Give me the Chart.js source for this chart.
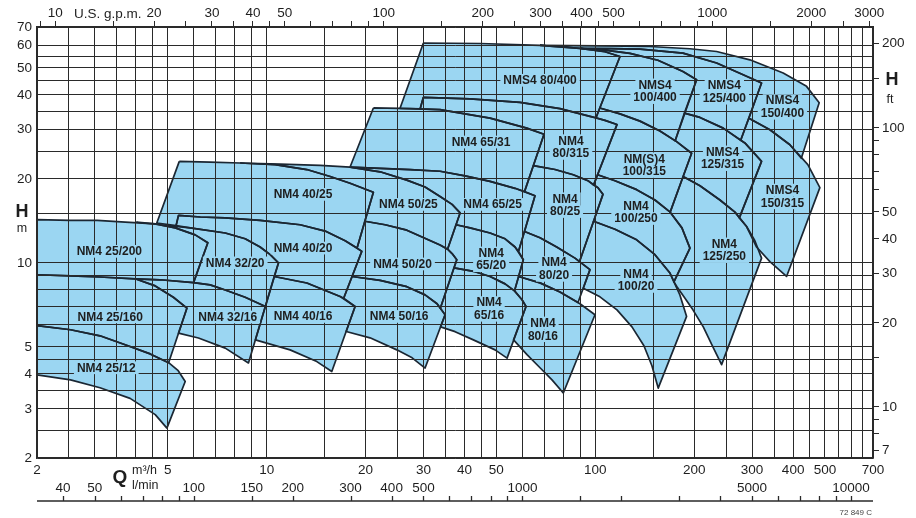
<!DOCTYPE html>
<html>
<head>
<meta charset="utf-8">
<script src="https://cdn.jsdelivr.net/npm/chart.js@4.4.1/dist/chart.umd.min.js"></script>
<style>
  html, body { margin: 0; padding: 0; background: #fff; }
</style>
</head>
<body>
<canvas id="pumpChart" width="916" height="518"></canvas>
<script>
// grid / tick values: Q in m3/h, H in m
const xGrid = [2, 2.5, 3, 3.5, 4, 4.5, 5, 6, 7, 8, 9, 10, 15, 20, 25, 30, 35, 40, 45, 50, 60, 70, 80, 90, 100, 150, 200, 250, 300, 350, 400, 450, 500, 550, 600, 650, 700];
const xLabels = [2, 5, 10, 20, 30, 40, 50, 100, 200, 300, 400, 500, 700];
const yGrid = [2, 2.5, 3, 3.5, 4, 4.5, 5, 6, 7, 8, 9, 10, 15, 20, 25, 30, 35, 40, 45, 50, 55, 60, 70];
const yLabels = [2, 3, 4, 5, 10, 20, 30, 40, 50, 60, 70];
const gpmTicks = [9, 10, 15, 20, 25, 30, 35, 40, 45, 50, 60, 70, 80, 90, 100, 150, 200, 250, 300, 350, 400, 450, 500, 600, 700, 800, 900, 1000, 1500, 2000, 2500, 3000];
const gpmLabels = [10, 20, 30, 40, 50, 100, 200, 300, 400, 500, 1000, 2000, 3000];
const ftTicks = [7, 8, 9, 10, 15, 20, 30, 40, 50, 60, 70, 80, 90, 100, 150, 200];
const ftLabels = [7, 10, 20, 30, 40, 50, 100, 200];
const lminTicks = [40, 50, 60, 70, 80, 90, 100, 150, 200, 300, 400, 500, 600, 700, 800, 900, 1000, 1500, 2000, 3000, 4000, 5000, 6000, 7000, 8000, 9000, 10000];
const lminLabels = [40, 50, 100, 150, 200, 300, 400, 500, 1000, 5000, 10000];

// pump fields, outline as [Q m3/h, H m]
const nm4_25_200 = [[2,14.3],[2.53,14.2],[3.05,14.2],[3.71,14.0],[4.58,13.8],[5.27,13.35],[6.06,12.6],[6.62,11.8],[5.99,8.5],[4.74,8.7],[3.98,8.77],[3.11,8.9],[2.53,8.99],[2,9.07]];
const nm4_25_160 = [[2,9.07],[2.53,8.99],[3.11,8.9],[3.98,8.77],[4.58,8.27],[5.2,7.53],[5.72,6.89],[5.03,4.39],[4.42,4.72],[3.71,5.09],[3.11,5.48],[2.53,5.76],[2,5.96]];
const nm4_25_12 = [[2,5.96],[2.53,5.76],[3.11,5.48],[3.71,5.09],[4.42,4.72],[5.03,4.39],[5.38,4.11],[5.65,3.76],[4.97,2.56],[4.58,2.86],[3.84,3.27],[3.11,3.57],[2.53,3.81],[2,3.97]];
const nm4_32_20 = [[4.01,13.99],[4.74,13.7],[5.85,13.35],[7.48,12.8],[8.6,12.2],[9.55,11.4],[10.25,10.7],[10.86,10.0],[9.91,6.98],[8.6,7.53],[7.48,8.0],[6.73,8.34],[5.99,8.5],[6.62,11.8],[6.06,12.6],[5.27,13.35],[4.58,13.8]];
const nm4_32_16 = [[3.98,8.77],[4.74,8.7],[5.99,8.5],[6.73,8.34],[7.48,8.0],[8.6,7.53],[9.91,6.98],[8.8,4.38],[7.48,4.95],[6.2,5.38],[5.39,5.6],[5.72,6.89],[5.2,7.53],[4.58,8.27]];
const nm4_40_25 = [[5.42,23.1],[6.73,22.97],[8.3,22.8],[10.61,22.5],[13.25,21.6],[15.6,20.4],[17.94,19.3],[21.12,17.9],[18.84,11.3],[17.33,12.0],[15.06,13.0],[12.64,13.7],[9.55,14.2],[7.48,14.5],[6.28,14.6],[5.39,14.8],[5.3,13.6],[4.63,13.9]];
const nm4_40_20 = [[5.39,14.8],[6.28,14.6],[7.48,14.5],[9.55,14.2],[12.64,13.7],[15.06,13.0],[17.33,12.0],[19.47,11.0],[17.15,7.47],[16.73,7.58],[13.25,8.47],[10.54,8.94],[10.86,10.0],[10.25,10.7],[9.55,11.4],[8.6,12.2],[7.48,12.8],[5.85,13.35],[5.3,13.6]];
const nm4_40_16 = [[10.54,8.94],[13.25,8.47],[16.73,7.58],[18.58,6.98],[15.78,4.08],[14.21,4.43],[11.78,4.88],[9.24,5.3]];
const nm4_50_25 = [[8.3,22.8],[10.99,22.6],[14.54,22.35],[17.94,22.05],[22.14,21.2],[26.7,19.8],[30.34,18.7],[33.7,17.3],[36.66,16.2],[38.78,15.1],[35.52,11.2],[33.7,11.6],[26.7,13.1],[22.93,13.7],[19.89,14.1],[21.12,17.9],[17.94,19.3],[15.6,20.4],[13.25,21.6],[10.61,22.5]];
const nm4_50_20 = [[19.89,14.1],[22.93,13.7],[26.7,13.1],[33.7,11.6],[35.52,11.2],[36.66,10.8],[37.89,10.26],[33.76,6.88],[33.0,7.14],[30.34,7.68],[26.7,8.22],[22.14,8.66],[18.19,8.94],[19.47,11.0],[18.84,11.3]];
const nm4_50_16 = [[18.19,8.94],[22.14,8.66],[26.7,8.22],[30.34,7.68],[33.0,7.14],[34.91,6.52],[30.34,4.2],[27.71,4.57],[24.89,4.88],[20.63,5.39],[17.45,5.68],[18.58,6.98],[17.15,7.47]];
const nm4_65_31 = [[21.12,35.9],[25.46,35.8],[33.7,35.4],[47.83,33.0],[61.85,30.4],[69.82,28.9],[60.9,18.0],[56.98,18.5],[47.83,19.6],[40.14,20.5],[33.7,21.3],[27.33,21.6],[22.14,21.8],[17.94,22.05]];
const nm4_65_25 = [[17.94,22.05],[22.14,21.8],[27.33,21.6],[33.7,21.3],[40.14,20.5],[47.83,19.6],[56.98,18.5],[65.54,17.4],[58.4,11.0],[56.98,11.4],[53.14,12.2],[47.83,12.8],[41.58,13.35],[37.68,13.7],[38.78,15.1],[36.66,16.2],[33.7,17.3],[30.34,18.7],[26.7,19.8],[22.14,21.2]];
const nm4_65_20 = [[37.68,13.7],[41.58,13.35],[47.83,12.8],[53.14,12.2],[56.98,11.4],[60.39,10.26],[56.78,7.94],[53.14,8.41],[47.83,8.94],[43.06,9.3],[37.15,9.6],[37.89,10.26],[36.66,10.8],[35.52,11.2]];
const nm4_65_16 = [[37.15,9.6],[43.06,9.3],[47.83,8.94],[53.14,8.41],[56.78,7.94],[59.84,7.38],[61.55,6.98],[53.89,4.56],[49.54,4.88],[42.56,5.3],[37.44,5.67],[33.82,5.9],[34.91,6.52],[33.76,6.88]];
const nm4_80_315 = [[29.98,39.2],[41.58,38.7],[59.01,37.6],[78.08,35.7],[96.34,33.5],[107.0,32.4],[116.4,31.3],[98.8,19.0],[95.0,19.7],[85.7,20.7],[75.4,21.6],[64.77,22.3],[69.82,28.9],[61.85,30.4],[47.83,33.0],[33.7,35.4],[29.3,35.6]];
const nm4_80_25 = [[64.77,22.3],[75.4,21.6],[85.7,20.7],[95.0,19.7],[101.9,18.6],[105.5,17.6],[89.5,10.1],[86.74,10.4],[76.3,11.4],[67.88,12.3],[60.9,12.96],[65.54,17.4],[60.9,18.0]];
const nm4_80_20 = [[60.9,12.96],[67.88,12.3],[76.3,11.4],[86.74,10.4],[96.34,9.46],[88.6,7.21],[78.08,7.87],[67.88,8.48],[58.44,8.94],[60.39,10.26],[58.4,11.0]];
const nm4_80_16 = [[58.44,8.94],[67.88,8.48],[78.08,7.87],[89.82,7.14],[99.77,6.52],[79.92,3.42],[73.84,3.81],[67.88,4.21],[61.97,4.69],[56.4,5.3],[61.55,6.98],[59.84,7.38],[56.78,7.94]];
const nms4_80_400 = [[29.98,61.35],[44.6,61.1],[67.88,60.2],[89.82,58.7],[107.0,57.1],[118.9,54.9],[100.5,33.1],[96.34,33.5],[78.08,35.7],[59.01,37.6],[41.58,38.7],[29.98,39.2],[29.3,35.6],[25.46,35.8]];
const nms4_100_400 = [[89.82,58.7],[107.0,57.8],[127.5,56.3],[155.1,53.2],[184.8,48.5],[203.4,45.3],[175.0,27.4],[157.3,29.7],[136.8,32.2],[118.9,34.2],[103.2,35.9],[118.9,54.9],[107.0,57.1]];
const nms4_125_400 = [[89.82,58.7],[110.8,58.6],[136.8,58.3],[184.8,56.4],[234.0,52.0],[281.8,47.2],[320.6,44.1],[277.0,27.5],[245.0,30.4],[208.2,33.2],[186.7,34.4],[203.4,45.3],[184.8,48.5],[155.1,53.2],[127.5,56.3],[107.0,57.8]];
const nms4_150_400 = [[67.88,60.2],[103.3,59.95],[146.7,59.6],[194.1,58.5],[234.0,57.2],[295.4,53.4],[373.0,47.9],[439.4,42.9],[480.1,37.5],[423.6,23.7],[391.0,26.5],[339.9,30.0],[293.4,33.0],[320.6,44.1],[281.8,47.2],[234.0,52.0],[184.8,56.4],[136.8,58.3],[110.8,58.6],[89.82,58.7]];
const nm4_100_315 = [[103.2,35.9],[118.9,34.2],[136.8,32.2],[157.3,29.7],[176.8,27.2],[196.4,24.7],[169.0,15.2],[151.9,16.8],[133.6,18.3],[114.8,19.7],[101.6,20.7],[116.4,31.3],[107.0,32.4],[100.5,33.1]];
const nm4_100_250 = [[101.6,20.7],[114.8,19.7],[133.6,18.3],[151.9,16.8],[169.0,15.2],[183.5,13.35],[194.1,11.3],[173.5,8.55],[168.7,9.2],[151.9,10.7],[133.6,12.1],[114.8,13.2],[98.8,14.1],[105.5,17.6],[101.9,18.6],[98.8,19.0]];
const nm4_100_20 = [[98.8,14.1],[114.8,13.2],[133.6,12.1],[151.9,10.7],[168.7,9.2],[180.9,7.68],[189.6,6.43],[155.4,3.56],[148.7,4.28],[140.6,5.05],[129.3,5.9],[116.4,6.79],[103.3,7.56],[91.92,8.11],[96.34,9.46],[89.5,10.1]];
const nms4_125_315 = [[186.7,34.4],[208.2,33.2],[245.0,30.4],[285.2,26.9],[320.6,23.1],[274.4,14.5],[266.1,15.2],[239.5,16.8],[208.2,18.9],[185.0,20.4],[196.4,24.7],[176.8,27.2],[175.0,27.4]];
const nms4_150_315 = [[293.4,33.0],[339.9,30.0],[391.0,26.5],[443.4,22.5],[482.4,18.6],[382.0,8.94],[339.9,10.1],[309.6,11.4],[288.7,13.5],[274.4,14.5],[320.6,23.1],[285.2,26.9],[277.0,27.5]];
const nm4_125_250 = [[185.0,20.4],[208.2,18.9],[239.5,16.8],[266.1,15.2],[288.7,13.5],[305.9,12.0],[320.6,10.4],[242.3,4.32],[226.4,5.09],[213.1,5.9],[198.2,6.79],[186.1,7.56],[177.2,8.21],[173.5,8.55],[194.1,11.3],[183.5,13.35],[169.0,15.2]];

// field names and where they sit [text, Q, H]
const regionLabels = [
  ['NM4 25/200', 3.32, 11.0], ['NM4 25/160', 3.34, 6.41], ['NM4 25/12', 3.25, 4.21],
  ['NM4 32/20', 8.02, 10.0], ['NM4 32/16', 7.61, 6.4],
  ['NM4 40/25', 12.9, 17.6], ['NM4 40/20', 12.9, 11.3], ['NM4 40/16', 12.9, 6.43],
  ['NM4 50/25', 27.0, 16.2], ['NM4 50/20', 25.9, 9.91], ['NM4 50/16', 25.3, 6.43],
  ['NM4 65/31', 44.9, 27.1], ['NM4 65/25', 48.7, 16.2], ['NM4\n65/20', 48.2, 10.3], ['NM4\n65/16', 47.5, 6.84],
  ['NM4\n80/315', 84.3, 26.0], ['NM4\n80/25', 80.9, 16.1], ['NM4\n80/20', 74.9, 9.51], ['NM4\n80/16', 69.3, 5.78],
  ['NMS4 80/400', 67.9, 45.1], ['NMS4\n100/400', 152, 41.2], ['NMS4\n125/400', 247, 41.0], ['NMS4\n150/400', 371, 36.2],
  ['NM(S)4\n100/315', 141, 22.4], ['NMS4\n125/315', 244, 23.7], ['NMS4\n150/315', 371, 17.3],
  ['NM4\n100/250', 133, 15.2], ['NM4\n125/250', 247, 11.1], ['NM4\n100/20', 133, 8.68]
];

const regions = [nm4_25_200, nm4_25_160, nm4_25_12, nm4_32_20, nm4_32_16, nm4_40_25, nm4_40_20, nm4_40_16,
  nm4_50_25, nm4_50_20, nm4_50_16, nm4_65_31, nm4_65_25, nm4_65_20, nm4_65_16,
  nm4_80_315, nm4_80_25, nm4_80_20, nm4_80_16, nms4_80_400, nms4_100_400, nms4_125_400, nms4_150_400,
  nm4_100_315, nm4_100_250, nm4_100_20, nms4_125_315, nms4_150_315, nm4_125_250];

const GPM = 4.402868;   // US gpm per m3/h
const FT = 3.28084;     // ft per m
const LMIN = 16.6667;   // l/min per m3/h

const FONT = "'Liberation Sans', Arial, Helvetica, sans-serif";
const FILL = 'rgb(155,214,242)';
const GRID = '#2a2a2a';
const TXT = '#1e1e1e';

Chart.defaults.font.family = FONT;
Chart.defaults.color = TXT;

const decor = {
  id: 'decor',
  afterDraw(chart) {
    const ctx = chart.ctx;
    const x = chart.scales.x, y = chart.scales.y;
    ctx.save();

    // names of the fields, on a patch of blue so the grid stops short of them
    ctx.font = 'bold 12px ' + FONT;
    ctx.textAlign = 'center';
    ctx.textBaseline = 'middle';
    const lh = 12.7;
    regionLabels.forEach(([text, q, h]) => {
      const lines = text.split('\n');
      const cx = x.getPixelForValue(q);
      const top = y.getPixelForValue(h) - lines.length * lh / 2;
      lines.forEach((l, i) => {
        const w = ctx.measureText(l).width + 6;
        ctx.fillStyle = FILL;
        ctx.fillRect(cx - w / 2, top + i * lh, w, lh);
      });
      ctx.fillStyle = TXT;
      lines.forEach((l, i) => ctx.fillText(l, cx, top + lh * (i + 0.5) + 0.5));
    });

    // axis names
    ctx.fillStyle = TXT;
    ctx.font = 'bold 18px ' + FONT;
    ctx.fillText('H', 22, 212);
    ctx.fillText('H', 892, 80);
    ctx.font = 'bold 19px ' + FONT;
    ctx.fillText('Q', 120, 478);
    ctx.font = '12.5px ' + FONT;
    ctx.fillText('m', 22, 229);
    ctx.fillText('ft', 890, 100);
    ctx.textAlign = 'left';
    ctx.fillText('m³/h', 132, 471);
    ctx.fillText('l/min', 132, 486);
    ctx.font = '13.5px ' + FONT;
    ctx.fillText('U.S. g.p.m.', 74, 14);

    // l/min scale under the m3/h labels
    const base = 501;
    ctx.strokeStyle = GRID;
    ctx.lineWidth = 1.3;
    ctx.beginPath();
    ctx.moveTo(x.left, base);
    ctx.lineTo(x.right, base);
    lminTicks.forEach(v => {
      const px = Math.round(x.getPixelForValue(v / LMIN)) + 0.5;
      ctx.moveTo(px, base);
      ctx.lineTo(px, base - 5);
    });
    ctx.stroke();
    ctx.textAlign = 'center';
    lminLabels.forEach(v => ctx.fillText(String(v), x.getPixelForValue(v / LMIN), 488));

    ctx.font = '8px ' + FONT;
    ctx.fillStyle = '#444';
    ctx.textAlign = 'right';
    ctx.fillText('72 849 C', 872, 513);
    ctx.restore();
  }
};

function fixTicks(values) {
  return s => { s.ticks = values.map(v => ({ value: v })); };
}
function only(list) {
  return v => (list.includes(v) ? String(v) : '');
}

const ctx = document.getElementById('pumpChart').getContext('2d');
const pumpChart = new Chart(ctx, {
  type: 'line',
  data: {
    datasets: regions.map(pts => ({
      data: pts.concat([pts[0]]).map(([q, h]) => ({ x: q, y: h })),
      xAxisID: 'x',
      yAxisID: 'y',
      backgroundColor: FILL,
      borderColor: '#1b2733',
      borderWidth: 1.7,
      borderJoinStyle: 'round',
      fill: 'shape',
      pointRadius: 0,
      tension: 0
    }))
  },
  options: {
    responsive: false,
    animation: false,
    events: [],
    layout: { padding: 0 },
    plugins: {
      legend: { display: false },
      tooltip: { enabled: false },
      filler: { drawTime: 'beforeDatasetsDraw' }
    },
    scales: {
      x: {
        type: 'logarithmic', position: 'bottom', min: 2, max: 700, bounds: 'data',
        afterBuildTicks: fixTicks(xGrid),
        afterFit: s => { s.height = 60; },
        // grid on top of the blue fields, as in the printed chart
        grid: { color: GRID, lineWidth: 1, drawTicks: false, z: 1 },
        border: { color: GRID, width: 1.5, z: 1 },
        ticks: { autoSkip: false, maxRotation: 0, padding: 4, font: { size: 13.5 }, callback: only(xLabels) }
      },
      xTop: {
        type: 'logarithmic', position: 'top', min: 2 * GPM, max: 700 * GPM, bounds: 'data',
        afterBuildTicks: fixTicks(gpmTicks),
        afterFit: s => { s.height = 27; },
        grid: { drawOnChartArea: false, color: GRID, tickLength: 6, z: 1 },
        border: { color: GRID, width: 1.5, z: 1 },
        ticks: { autoSkip: false, maxRotation: 0, padding: 0, font: { size: 13.5 }, callback: only(gpmLabels) }
      },
      y: {
        type: 'logarithmic', position: 'left', min: 2, max: 70, bounds: 'data',
        afterBuildTicks: fixTicks(yGrid),
        afterFit: s => { s.width = 37; },
        grid: { color: GRID, lineWidth: 1, drawTicks: false, z: 1 },
        border: { color: GRID, width: 1.5, z: 1 },
        ticks: { autoSkip: false, padding: 5, font: { size: 13.5 }, callback: only(yLabels) }
      },
      yR: {
        type: 'logarithmic', position: 'right', min: 2 * FT, max: 70 * FT, bounds: 'data',
        afterBuildTicks: fixTicks(ftTicks),
        afterFit: s => { s.width = 43; },
        grid: { drawOnChartArea: false, color: GRID, tickLength: 6, z: 1 },
        border: { color: GRID, width: 1.5, z: 1 },
        ticks: { autoSkip: false, padding: 3, font: { size: 13.5 }, callback: only(ftLabels) }
      }
    }
  },
  plugins: [decor]
});
</script>
</body>
</html>
